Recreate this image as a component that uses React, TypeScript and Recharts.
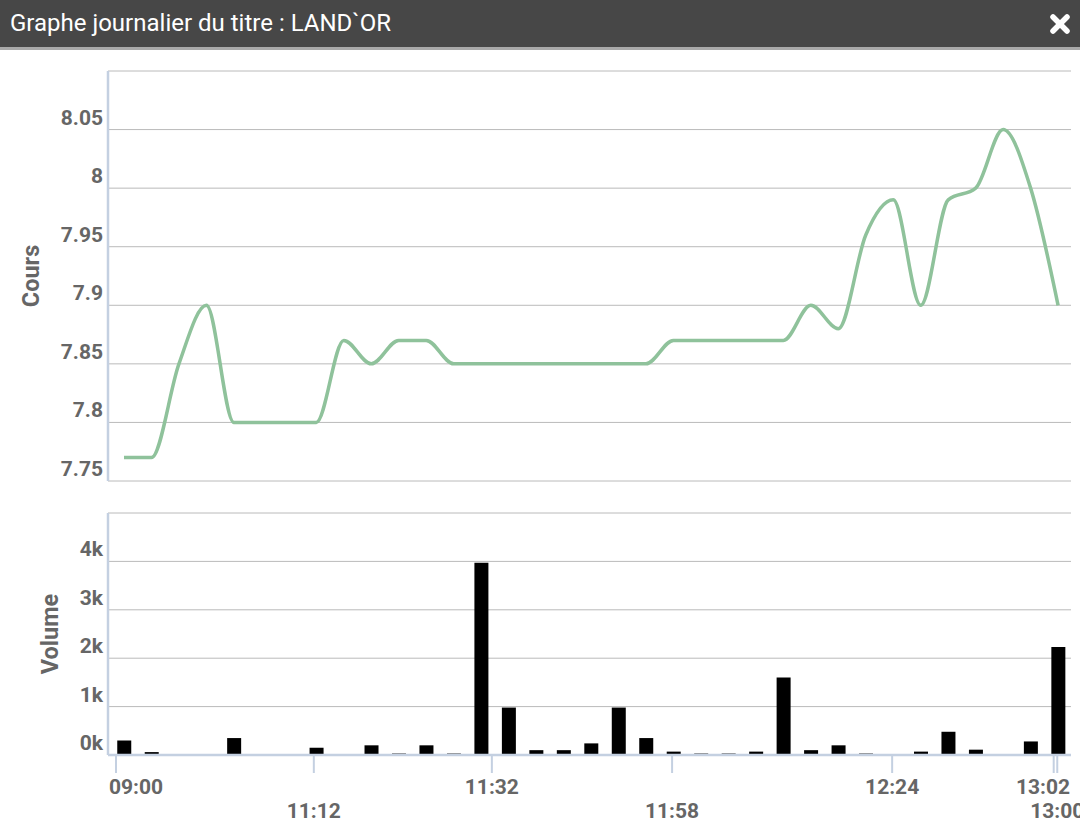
import React from 'react'
import { LineChart, Line, BarChart, Bar, XAxis, YAxis, CartesianGrid } from 'recharts'

// one slot per trade (ordinal axis), read left to right
const PRICE = [
  7.77, 7.77, 7.85, 7.9, 7.8, 7.8, 7.8, 7.8, 7.87, 7.85, 7.87, 7.87,
  7.85, 7.85, 7.85, 7.85, 7.85, 7.85, 7.85, 7.85, 7.87, 7.87, 7.87, 7.87,
  7.87, 7.9, 7.88, 7.96, 7.99, 7.9, 7.99, 8.0, 8.05, 8.0, 7.9,
]
const VOLUME = [
  300, 60, 0, 0, 350, 0, 0, 150, 0, 200, 30, 200,
  30, 3970, 980, 100, 100, 240, 980, 350, 70, 30, 30, 70,
  1600, 100, 200, 30, 0, 70, 480, 110, 0, 280, 2230,
]
const PRICE_TICKS = [7.75, 7.8, 7.85, 7.9, 7.95, 8, 8.05, 8.1]
const VOLUME_TICKS = [0, 1000, 2000, 3000, 4000, 5000]
const TIME_TICKS = [-0.29, 6.91, 13.39, 19.95, 27.96, 33.84, 33.97]
const TIME_LABELS = ['09:00', '11:12', '11:32', '11:58', '12:24', '13:02', '13:00']

const data = PRICE.map((p, i) => ({ slot: i, price: p, volume: VOLUME[i] }))

const X_DOMAIN: [number, number] = [-0.582, 34.47]
const PLOT_LEFT = 108
const PLOT_RIGHT = 1071
const LABEL_ROW = [0, 1, 0, 1, 0, 0, 1]
const LABEL_ALIGN = ['start', 'middle', 'middle', 'middle', 'middle', 'end', 'middle']

const AXIS_BLUE = '#c4d0e1'
const GRID = '#bababa'
const LABEL = '#666666'
const FONT = 'Roboto, sans-serif'

const labelStyle = { fontFamily: FONT, fontSize: 21, fontWeight: 700, fill: LABEL }

function PriceTick({ x, y, payload }: any) {
  if (payload.value === 8.1) return <g />
  return <text x={x} y={y - 5} textAnchor="end" {...labelStyle}>{payload.value}</text>
}

function VolumeTick({ x, y, payload }: any) {
  if (payload.value === 5000) return <g />
  return <text x={x} y={y - 5} textAnchor="end" {...labelStyle}>{`${payload.value / 1000}k`}</text>
}

function TimeTick({ x, y, payload }: any) {
  const i = TIME_TICKS.indexOf(payload.value)
  if (i < 0) return <g />
  const anchor = LABEL_ALIGN[i]
  let tx = x
  if (anchor === 'start') tx = PLOT_LEFT + 1
  if (anchor === 'end') tx = PLOT_RIGHT - 1
  return (
    <text x={tx} y={y + (LABEL_ROW[i] ? 45 : 21)} textAnchor={anchor} {...labelStyle}>
      {TIME_LABELS[i]}
    </text>
  )
}

export default function App() {
  return (
    <div style={{ position: 'absolute', left: 0, top: 0, width: 1080, height: 824, background: '#fff', overflow: 'hidden' }}>
      {/* header */}
      <div style={{ position: 'absolute', left: 0, top: 0, width: 1080, height: 47, background: '#474747', borderBottom: '3px solid #a9a9a9' }}>
        <span style={{ position: 'absolute', left: 10, top: 8, color: '#fff', fontFamily: FONT, fontSize: 24, lineHeight: '30px' }}>
          Graphe journalier du titre : LAND`OR
        </span>
        <svg width={22} height={22} style={{ position: 'absolute', left: 1049, top: 13 }}>
          <line x1={4} y1={4} x2={18} y2={18} stroke="#fff" strokeWidth={5.5} strokeLinecap="round" />
          <line x1={18} y1={4} x2={4} y2={18} stroke="#fff" strokeWidth={5.5} strokeLinecap="round" />
        </svg>
      </div>

      {/* Cours */}
      <div style={{ position: 'absolute', left: 0, top: 50 }}>
        <LineChart width={1080} height={450} data={data} margin={{ top: 21, right: 9, bottom: 19, left: 0 }}>
          <CartesianGrid vertical={false} stroke={GRID} />
          <XAxis type="number" dataKey="slot" domain={X_DOMAIN} hide />
          <YAxis
            width={108}
            domain={[7.75, 8.1]}
            ticks={PRICE_TICKS}
            interval={0}
            tickSize={0}
            tickMargin={5}
            tick={PriceTick}
            axisLine={{ stroke: AXIS_BLUE, strokeWidth: 2.5 }}
            label={{ value: 'Cours', angle: -90, position: 'center', dx: -23, style: { fontFamily: FONT, fontSize: 23.5, fontWeight: 700, fill: LABEL } }}
          />
          <Line type="monotone" dataKey="price" stroke="#8fc29b" strokeWidth={3.5} dot={false} isAnimationActive={false} />
        </LineChart>
      </div>

      {/* Volume */}
      <div style={{ position: 'absolute', left: 0, top: 500 }}>
        <BarChart width={1080} height={324} data={data} margin={{ top: 13, right: 9, bottom: 0, left: 0 }}>
          <CartesianGrid vertical={false} stroke={GRID} />
          <XAxis
            type="number"
            dataKey="slot"
            domain={X_DOMAIN}
            ticks={TIME_TICKS}
            interval={0}
            height={69}
            tickSize={18}
            tickMargin={0}
            tick={TimeTick}
            tickLine={{ stroke: AXIS_BLUE, strokeWidth: 2 }}
            axisLine={{ stroke: AXIS_BLUE, strokeWidth: 2.5 }}
          />
          <YAxis
            width={108}
            domain={[0, 5000]}
            ticks={VOLUME_TICKS}
            interval={0}
            tickSize={0}
            tickMargin={5}
            tick={VolumeTick}
            axisLine={{ stroke: AXIS_BLUE, strokeWidth: 2.5 }}
            label={{ value: 'Volume', angle: -90, position: 'center', dx: -4, style: { fontFamily: FONT, fontSize: 23.5, fontWeight: 700, fill: LABEL } }}
          />
          <Bar dataKey="volume" fill="#000" barSize={14} isAnimationActive={false} />
        </BarChart>
      </div>
    </div>
  )
}
